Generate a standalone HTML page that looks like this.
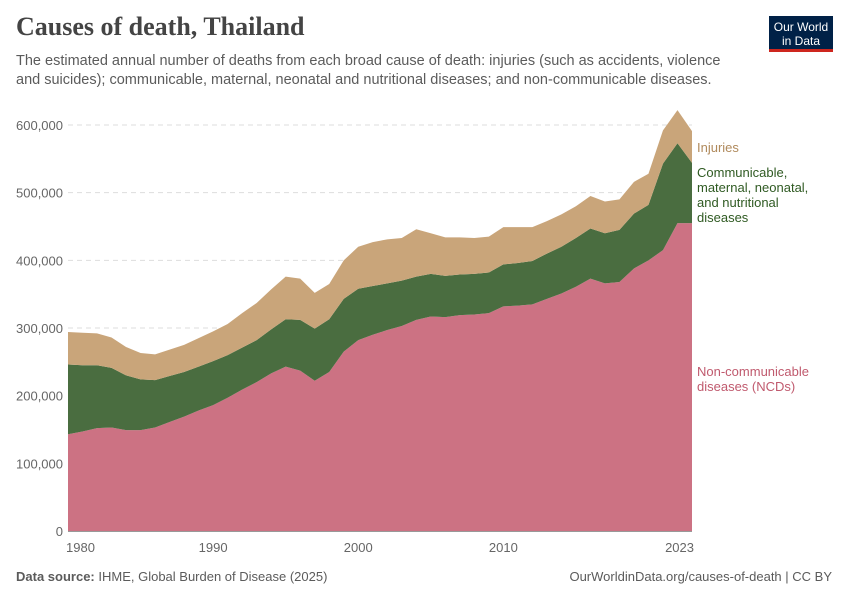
<!DOCTYPE html>
<html><head><meta charset="utf-8"><style>
body{margin:0;width:850px;height:600px;background:#fff;font-family:"Liberation Sans",sans-serif;overflow:hidden;position:relative}
.t{position:absolute}
</style></head><body>
<div class="t" style="left:16px;top:12px;font-family:'Liberation Serif',serif;font-size:26px;font-weight:bold;color:#444">Causes of death, Thailand</div>
<div class="t" style="left:16px;top:52px;width:720px;font-size:14.5px;line-height:19px;color:#5b5b5b">The estimated annual number of deaths from each broad cause of death: injuries (such as accidents, violence and suicides); communicable, maternal, neonatal and nutritional diseases; and non-communicable diseases.</div>
<div class="t" style="left:769px;top:16px;width:64px;height:36px;background:#002147;border-bottom:3px solid #ce261e;color:#fff;font-size:12px;line-height:14px;text-align:center;padding-top:4px;box-sizing:border-box">Our World<br>in Data</div>
<svg class="t" style="left:0;top:0" width="850" height="600">
<g id="grid"></g><g id="areas"></g><g id="labels"></g>
</svg>
<div class="t" style="left:16px;top:569px;font-size:13px;color:#5b5b5b"><b>Data source:</b> IHME, Global Burden of Disease (2025)</div>
<div class="t" style="right:18px;top:569px;font-size:13px;color:#5b5b5b">OurWorldinData.org/causes-of-death | CC BY</div>
<script>
const years=[];for(let y=1980;y<=2023;y++)years.push(y);
const ncd=[143,147,152,153,149,149,153,161,169,178,186,197,209,220,233,243,237,222,235,265,282,290,297,303,312,317,316,319,320,322,332,333,335,343,351,361,373,366,368,388,400,415,455,455];
const cmnn=[103,98,93,88,81,75,70,68,66,65,65,63,62,62,65,70,75,77,78,78,76,72,69,67,64,63,61,60,60,60,62,63,64,67,69,72,74,74,77,81,82,128,118,89];
const injuries=[48,48,47,45,42,39,38,39,40,42,44,46,51,55,59,63,61,53,52,57,62,65,65,63,70,60,57,55,53,53,55,53,50,48,48,47,48,47,45,47,46,49,49,47];
const yTicks=[0,100000,200000,300000,400000,500000,600000];
const xTicks=[1980,1990,2000,2010,2023];
const NS="http://www.w3.org/2000/svg";
const X=y=>68+(y-1980)*(624/43);
const Y=v=>531-v*(406/600000);
function mk(tag,attrs,parent,text){const e=document.createElementNS(NS,tag);for(const k in attrs)e.setAttribute(k,attrs[k]);if(text!=null)e.textContent=text;parent.appendChild(e);return e;}
const grid=document.getElementById('grid'),areas=document.getElementById('areas'),labels=document.getElementById('labels');
yTicks.forEach(v=>{
 if(v>0){const l=mk('line',{x1:68,x2:692,y1:Y(v),y2:Y(v),stroke:'#ddd','stroke-dasharray':'5,4'},grid);
 
 }
 const t=mk('text',{x:63,y:Y(v)+5,'text-anchor':'end','font-size':13,fill:'#666'},labels,v.toLocaleString('en-US'));
 
 
});
const ax=mk('line',{x1:68,x2:692,y1:531.5,y2:531.5,stroke:'#999'},grid);


xTicks.forEach((yr,i)=>{
 const anchor=i==0?'start':(i==xTicks.length-1?'end':'middle');
 const t=mk('text',{x:i==0?X(yr)-2:(i==xTicks.length-1?X(yr)+2:X(yr)),y:552,'text-anchor':anchor,'font-size':13,fill:'#666'},labels,String(yr));
 
 
});
const base=years.map(()=>0);
const series=[[ncd,'#cc7283','ncd-area'],[cmnn,'#4a6d40','cmnn-area'],[injuries,'#c9a57a','injuries-area']];
series.forEach(([vals,col,name])=>{
 const top=base.map((b,i)=>b+vals[i]*1000);
 let d='M'+years.map((yr,i)=>X(yr)+','+Y(top[i])).join('L');
 for(let i=years.length-1;i>=0;i--)d+='L'+X(years[i])+','+Y(base[i]);
 const p=mk('path',{d:d+'Z',fill:col},areas);
 
 
 top.forEach((v,i)=>base[i]=v);
});
const leg=[['Injuries','#b08a5c',152,[]],['Communicable,',"#2f5a22",177,['maternal, neonatal,','and nutritional','diseases']],['Non-communicable','#c05a6e',376,['diseases (NCDs)']]];
leg.forEach(([a,c,y,rest])=>{
 const t=mk('text',{x:697,y:y,'font-size':13,fill:c},labels);
 
 
 [a,...rest].forEach((s,j)=>mk('tspan',{x:697,dy:j?15:0},t,s));
});
</script>
</body></html>
